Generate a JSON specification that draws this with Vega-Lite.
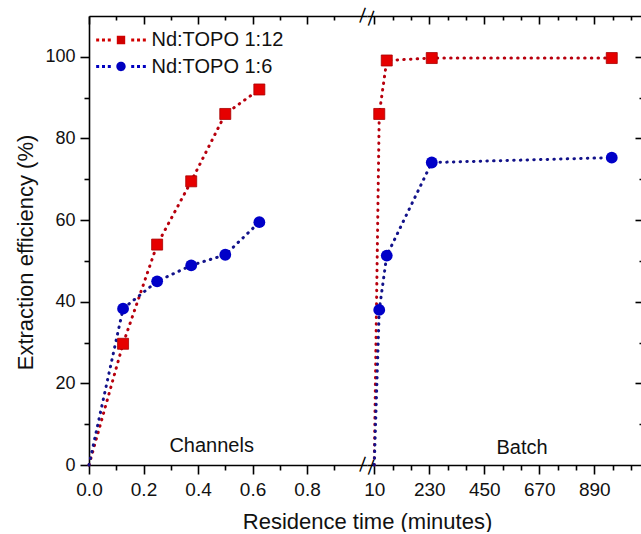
{
  "$schema": "https://vega.github.io/schema/vega-lite/v6.json",
  "padding": {"left": 14, "top": 5, "right": 0, "bottom": 0},
  "spacing": 0,
  "bounds": "flush",
  "background": "white",
  "config": {
    "font": "Liberation Sans",
    "view": {"stroke": null},
    "axis": {"grid": false, "domainColor": "#000", "tickColor": "#000", "domainWidth": 1.6, "tickWidth": 1.6, "labelColor": "#111", "titleColor": "#111", "labelFont": "Liberation Sans", "titleFont": "Liberation Sans", "titleFontWeight": "normal", "labelFlush": false, "labelOverlap": false}
  },
  "datasets": {
    "pts": [
      {"panel": "Channels", "series": "Nd:TOPO 1:12", "t": 0, "eff": 0},
      {"panel": "Channels", "series": "Nd:TOPO 1:12", "t": 0.125, "eff": 29.7},
      {"panel": "Channels", "series": "Nd:TOPO 1:12", "t": 0.25, "eff": 54},
      {"panel": "Channels", "series": "Nd:TOPO 1:12", "t": 0.375, "eff": 69.5},
      {"panel": "Channels", "series": "Nd:TOPO 1:12", "t": 0.5, "eff": 86},
      {"panel": "Channels", "series": "Nd:TOPO 1:12", "t": 0.625, "eff": 92},
      {"panel": "Channels", "series": "Nd:TOPO 1:6", "t": 0, "eff": 0},
      {"panel": "Channels", "series": "Nd:TOPO 1:6", "t": 0.125, "eff": 38.3},
      {"panel": "Channels", "series": "Nd:TOPO 1:6", "t": 0.25, "eff": 45},
      {"panel": "Channels", "series": "Nd:TOPO 1:6", "t": 0.375, "eff": 48.9},
      {"panel": "Channels", "series": "Nd:TOPO 1:6", "t": 0.5, "eff": 51.5},
      {"panel": "Channels", "series": "Nd:TOPO 1:6", "t": 0.625, "eff": 59.5},
      {"panel": "Batch", "series": "Nd:TOPO 1:12", "t": 10, "eff": 0},
      {"panel": "Batch", "series": "Nd:TOPO 1:12", "t": 30, "eff": 86},
      {"panel": "Batch", "series": "Nd:TOPO 1:12", "t": 60, "eff": 99.1},
      {"panel": "Batch", "series": "Nd:TOPO 1:12", "t": 240, "eff": 99.7},
      {"panel": "Batch", "series": "Nd:TOPO 1:12", "t": 960, "eff": 99.7},
      {"panel": "Batch", "series": "Nd:TOPO 1:6", "t": 10, "eff": 0},
      {"panel": "Batch", "series": "Nd:TOPO 1:6", "t": 30, "eff": 38},
      {"panel": "Batch", "series": "Nd:TOPO 1:6", "t": 60, "eff": 51.3},
      {"panel": "Batch", "series": "Nd:TOPO 1:6", "t": 240, "eff": 74.1},
      {"panel": "Batch", "series": "Nd:TOPO 1:6", "t": 960, "eff": 75.3}
    ]
  },
  "hconcat": [
    {
      "width": 278,
      "height": 449,
      "layer": [
        {
          "data": {"name": "pts"},
          "transform": [{"filter": "datum.panel === 'Channels'"}],
          "encoding": {
            "x": {"field": "t", "type": "quantitative", "scale": {"domain": [0, 1.02], "nice": false, "zero": false},
              "axis": {"values": [0, 0.1, 0.2, 0.3, 0.4, 0.5, 0.6, 0.7, 0.8, 0.9],
                "labelExpr": "round(datum.value*10) % 2 === 0 ? format(datum.value, '.1f') : ''",
                "tickSize": {"condition": {"test": "round(datum.value*10) % 2 === 0", "value": 9}, "value": 5},
                "labelFontSize": 19, "labelPadding": 6,
                "title": "Residence time (minutes)", "titleFontSize": 22, "titleX": 278, "titleY": 63, "titleAlign": "center", "titleBaseline": "alphabetic"}},
            "y": {"field": "eff", "type": "quantitative", "scale": {"domain": [0, 110], "nice": false},
              "axis": {"values": [0, 10, 20, 30, 40, 50, 60, 70, 80, 90, 100],
                "labelExpr": "datum.value % 20 === 0 ? datum.label : ''",
                "tickSize": {"condition": {"test": "datum.value % 20 === 0", "value": 9}, "value": 5},
                "labelFontSize": 18, "labelPadding": 5,
                "title": "Extraction efficiency (%)", "titleFontSize": 22, "titleX": -64, "titleY": 236, "titleAngle": -90, "titleAlign": "center", "titleBaseline": "middle"}}
          },
          "layer": [
            {"transform": [{"filter": "datum.series === 'Nd:TOPO 1:12'"}], "mark": {"type": "line", "color": "#b8000d", "strokeWidth": 3, "strokeDash": [0.5, 6.2], "strokeCap": "round"}},
            {"transform": [{"filter": "datum.series === 'Nd:TOPO 1:6'"}], "mark": {"type": "line", "color": "#12128a", "strokeWidth": 3, "strokeDash": [0.5, 6.2], "strokeCap": "round"}},
            {"transform": [{"filter": "datum.series === 'Nd:TOPO 1:12' && datum.eff > 0"}], "mark": {"type": "point", "shape": "square", "filled": true, "size": 121, "color": "#e60000", "stroke": "#a80000", "strokeWidth": 0.8, "opacity": 1}},
            {"transform": [{"filter": "datum.series === 'Nd:TOPO 1:6' && datum.eff > 0"}], "mark": {"type": "point", "shape": "circle", "filled": true, "size": 140, "color": "#0000c8", "opacity": 1}},
            {
              "mark": {"type": "point", "filled": true, "opacity": 0},
              "encoding": {
                "color": {"field": "series", "type": "nominal",
                  "scale": {"domain": ["Nd:TOPO 1:12", "Nd:TOPO 1:6"], "range": ["#d00000", "#0000c0"]},
                  "legend": {"title": null, "orient": "none", "legendX": 22, "legendY": 14, "symbolSize": 144, "symbolOpacity": 1, "symbolStrokeWidth": 0, "labelFontSize": 20, "labelColor": "#111", "labelOffset": 20.5, "rowPadding": 6.5, "padding": 0, "labelFont": "Liberation Sans"}},
                "shape": {"field": "series", "type": "nominal",
                  "scale": {"domain": ["Nd:TOPO 1:12", "Nd:TOPO 1:6"], "range": [
                    "M-0.7,-0.7H0.7V0.7H-0.7Z M-4.14,-0.25h0.5v0.5h-0.5Z M-3.17,-0.25h0.5v0.5h-0.5Z M-2.2,-0.25h0.5v0.5h-0.5Z M1.7,-0.25h0.5v0.5h-0.5Z M2.67,-0.25h0.5v0.5h-0.5Z M3.64,-0.25h0.5v0.5h-0.5Z",
                    "M-0.78,0A0.78,0.78 0 1,0 0.78,0A0.78,0.78 0 1,0 -0.78,0Z M-4.14,-0.25h0.5v0.5h-0.5Z M-3.17,-0.25h0.5v0.5h-0.5Z M-2.2,-0.25h0.5v0.5h-0.5Z M1.7,-0.25h0.5v0.5h-0.5Z M2.67,-0.25h0.5v0.5h-0.5Z M3.64,-0.25h0.5v0.5h-0.5Z"]},
                  "legend": {"title": null, "orient": "none", "legendX": 22, "legendY": 14, "symbolSize": 144, "symbolOpacity": 1, "symbolStrokeWidth": 0, "labelFontSize": 20, "labelColor": "#111", "labelOffset": 20.5, "rowPadding": 6.5, "padding": 0, "labelFont": "Liberation Sans"}}
              }
            },
            {"data": {"values": [{"t": 0.45, "eff": 3.2, "lab": "Channels"}]}, "mark": {"type": "text", "fontSize": 20, "baseline": "alphabetic", "align": "center", "color": "#111"}, "encoding": {"text": {"field": "lab"}}}
          ]
        },
        {
          "data": {"values": [{"t": 0, "eff": 0}]},
          "mark": {"type": "point", "opacity": 0},
          "encoding": {
            "x": {"field": "t", "type": "quantitative", "scale": {"domain": [0, 1.02], "nice": false, "zero": false},
              "axis": {"orient": "top", "values": [0, 0.1, 0.2, 0.3, 0.4, 0.5, 0.6, 0.7, 0.8, 0.9], "labels": false, "title": null,
                "tickSize": {"condition": {"test": "round(datum.value*10) % 2 === 0", "value": -8}, "value": -4}}},
            "y": {"field": "eff", "type": "quantitative", "scale": {"domain": [0, 110], "nice": false}, "axis": null}
          }
        }
      ],
      "resolve": {"axis": {"x": "independent", "y": "independent"}}
    },
    {
      "width": 276,
      "height": 449,
      "layer": [
        {
          "data": {"name": "pts"},
          "transform": [{"filter": "datum.panel === 'Batch'"}],
          "encoding": {
            "x": {"field": "t", "type": "quantitative", "scale": {"domain": [-19, 1085], "nice": false, "zero": false},
              "axis": {"values": [10, 83.333, 156.667, 230, 303.333, 376.667, 450, 523.333, 596.667, 670, 743.333, 816.667, 890, 963.333, 1036.667],
                "labelExpr": "round(datum.value - 10) % 220 === 0 ? format(datum.value, 'd') : ''",
                "tickSize": {"condition": {"test": "round(datum.value - 10) % 220 === 0", "value": 9}, "value": 5},
                "labelFontSize": 19, "labelPadding": 6, "title": null}},
            "y": {"field": "eff", "type": "quantitative", "scale": {"domain": [0, 110], "nice": false}, "axis": null}
          },
          "layer": [
            {"transform": [{"filter": "datum.series === 'Nd:TOPO 1:12'"}], "mark": {"type": "line", "color": "#b8000d", "strokeWidth": 3, "strokeDash": [0.5, 6.2], "strokeCap": "round"}},
            {"transform": [{"filter": "datum.series === 'Nd:TOPO 1:6'"}], "mark": {"type": "line", "color": "#12128a", "strokeWidth": 3, "strokeDash": [0.5, 6.2], "strokeCap": "round"}},
            {"transform": [{"filter": "datum.series === 'Nd:TOPO 1:12' && datum.eff > 0"}], "mark": {"type": "point", "shape": "square", "filled": true, "size": 121, "color": "#e60000", "stroke": "#a80000", "strokeWidth": 0.8, "opacity": 1}},
            {"transform": [{"filter": "datum.series === 'Nd:TOPO 1:6' && datum.eff > 0"}], "mark": {"type": "point", "shape": "circle", "filled": true, "size": 140, "color": "#0000c8", "opacity": 1}},
            {"data": {"values": [{"t": 601, "eff": 2.7, "lab": "Batch"}]}, "mark": {"type": "text", "fontSize": 20, "baseline": "alphabetic", "align": "center", "color": "#111"}, "encoding": {"text": {"field": "lab"}}},
            {"data": {"values": [{"t": -19, "eff": 110, "lab": "| |"}, {"t": -19, "eff": 0, "lab": "| |"}]}, "mark": {"type": "text", "fontSize": 17, "baseline": "middle", "align": "center", "angle": 20, "color": "#000"}, "encoding": {"text": {"field": "lab"}}}
          ]
        },
        {
          "data": {"values": [{"t": 10, "eff": 0}]},
          "mark": {"type": "point", "opacity": 0},
          "encoding": {
            "x": {"field": "t", "type": "quantitative", "scale": {"domain": [-19, 1085], "nice": false, "zero": false},
              "axis": {"orient": "top", "values": [10, 83.333, 156.667, 230, 303.333, 376.667, 450, 523.333, 596.667, 670, 743.333, 816.667, 890, 963.333, 1036.667], "labels": false, "title": null,
                "tickSize": {"condition": {"test": "round(datum.value - 10) % 220 === 0", "value": -8}, "value": -4}}},
            "y": {"field": "eff", "type": "quantitative", "scale": {"domain": [0, 110], "nice": false},
              "axis": {"orient": "right", "values": [10, 20, 30, 40, 50, 60, 70, 80, 90, 100], "labels": false, "title": null,
                "tickSize": {"condition": {"test": "datum.value % 20 === 0", "value": -8}, "value": -4}}}
          }
        }
      ],
      "resolve": {"axis": {"x": "independent", "y": "independent"}}
    }
  ]
}
